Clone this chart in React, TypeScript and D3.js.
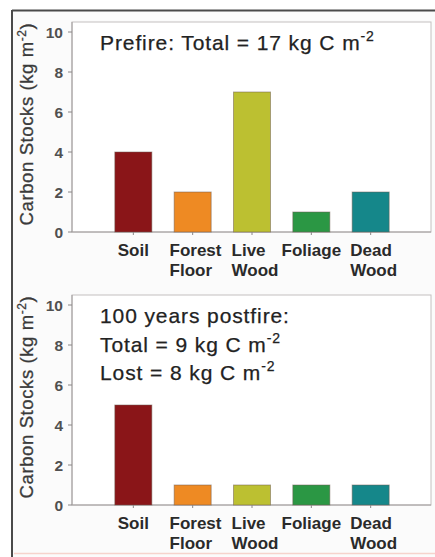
import * as d3 from 'd3'
import React, { useLayoutEffect, useRef, useState } from 'react'

const categories = ['Soil', 'Forest Floor', 'Live Wood', 'Foliage', 'Dead Wood']
const prefireStocks = [4, 2, 7, 1, 2]
const postfireStocks = [5, 1, 1, 1, 1]
const barColors = ['#8a1518', '#ee8a23', '#bcc031', '#2b9744', '#15878a']
const yTicks = [0, 2, 4, 6, 8, 10]
const prefireNote = [['Prefire: Total = 17 kg C m', '-2']]
const postfireNote = [['100 years postfire:', ''], ['Total = 9 kg C m', '-2'], ['Lost = 8 kg C m', '-2']]

const FONT = '"Liberation Sans", Arial, Helvetica, sans-serif'

const box = { left: 72, right: 431, top: 22, bottom: 232 }

const x = d3.scalePoint<string>().domain(categories).range([74, 430]).padding(1)
const y = d3.scaleLinear().domain([0, 10]).range([232, 32])
const barWidth = 37

// multi-line tick label, lines left aligned, block centred on the bar
const CategoryLabel = ({ name, cx }: { name: string; cx: number }) => {
  const ref = useRef<SVGTextElement | null>(null)
  const [shift, setShift] = useState(0)
  useLayoutEffect(() => {
    if (ref.current) setShift(ref.current.getBBox().width / 2)
  }, [name])
  const lines = name.split(' ')
  return (
    <text
      ref={ref}
      transform={`translate(${cx - shift + (lines.length > 1 ? 3 : 0)},0)`}
      fontSize={17}
      fontWeight="bold"
      fill="#2a2a2a"
      fontFamily={FONT}
    >
      {lines.map((l, i) => (
        <tspan key={l} x={0} y={256 + i * 20}>
          {l}
        </tspan>
      ))}
    </text>
  )
}

const Panel = ({ values, note, dy }: { values: number[]; note: string[][]; dy: number }) => (
  <g transform={`translate(0,${dy})`}>
    <rect
      x={box.left}
      y={box.top}
      width={box.right - box.left}
      height={box.bottom - box.top}
      fill="#ffffff"
      stroke="#c4c0c0"
      strokeWidth={1}
    />
    <line x1={box.left} x2={box.left} y1={box.top} y2={box.bottom} stroke="#a09c9c" />
    <line x1={box.left} x2={box.right} y1={box.bottom} y2={box.bottom} stroke="#a09c9c" />

    {yTicks.map((t) => (
      <g key={t} transform={`translate(0,${y(t)})`}>
        <line x1={box.left - 4} x2={box.left} stroke="#8a8686" />
        <text x={63} dy="0.36em" textAnchor="end" fontSize={15.5} fontWeight="bold" fill="#505050" fontFamily={FONT}>
          {t}
        </text>
      </g>
    ))}

    {values.map((v, i) => (
      <rect
        key={categories[i]}
        x={(x(categories[i]) ?? 0) - barWidth / 2}
        y={y(v)}
        width={barWidth}
        height={y(0) - y(v)}
        fill={barColors[i]}
        stroke="#6e5a50"
        strokeOpacity={0.5}
        strokeWidth={1}
      />
    ))}

    {categories.map((c) => (
      <line key={c} x1={x(c)} x2={x(c)} y1={box.bottom} y2={box.bottom + 3} stroke="#8a8686" />
    ))}

    {categories.map((c) => (
      <CategoryLabel key={c} name={c} cx={x(c) ?? 0} />
    ))}

    <text
      transform="translate(33,124) rotate(-90)"
      textAnchor="middle"
      fontSize={18.5}
      letterSpacing={0.6}
      fill="#3a3a3a"
      stroke="#3a3a3a"
      strokeWidth={0.3}
      fontFamily={FONT}
    >
      Carbon Stocks (kg m
      <tspan dy={-7} fontSize={12}>
        -2
      </tspan>
      <tspan dy={7}>)</tspan>
    </text>

    {note.map(([main, sup], i) => (
      <text
        key={main}
        x={100}
        y={50 + i * 28.5}
        fontSize={21}
        letterSpacing={0.9}
        fill="#222"
        stroke="#222"
        strokeWidth={0.25}
        fontFamily={FONT}
      >
        {main}
        {sup && (
          <tspan dy={-9} fontSize={14}>
            {sup}
          </tspan>
        )}
      </text>
    ))}
  </g>
)

export default function App() {
  return (
    <svg
      width={435}
      height={557}
      style={{ position: 'absolute', left: 0, top: 0, display: 'block' }}
    >
      <rect x={0} y={0} width={435} height={557} fill="#ffffff" />
      <rect x={12} y={10} width={423} height={547} fill="#fbfbfb" />
      <line x1={12} x2={435} y1={10.5} y2={10.5} stroke="#4a4a4a" strokeWidth={2} />
      <line x1={12} x2={12} y1={10} y2={557} stroke="#4a4a4a" strokeWidth={2} />
      <line x1={14} x2={435} y1={553.5} y2={553.5} stroke="#f6d3cc" strokeWidth={1.5} />
      <Panel values={prefireStocks} note={prefireNote} dy={0} />
      <Panel values={postfireStocks} note={postfireNote} dy={273} />
    </svg>
  )
}
